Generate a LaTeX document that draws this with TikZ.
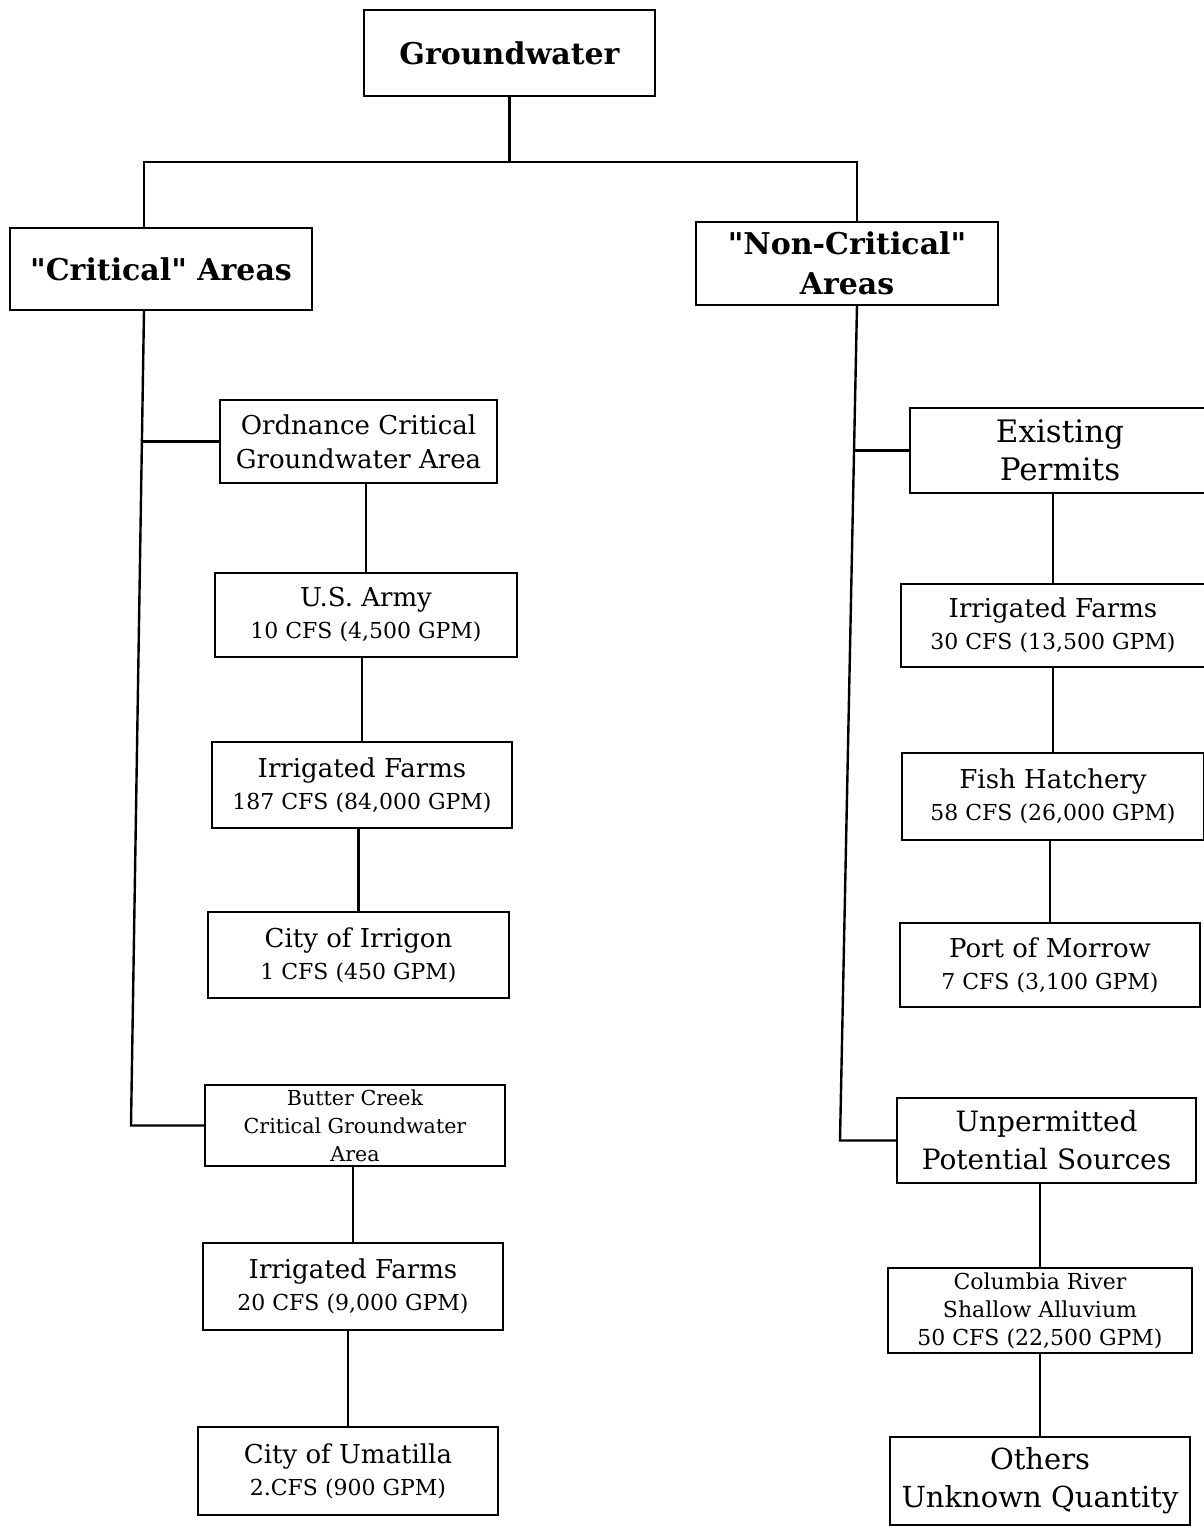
\documentclass[tikz,border=0pt]{standalone}
\usepackage{fontspec}
\setmainfont{DejaVu Serif}
\newcommand\fsub{\fontsize{11}{14}\selectfont}
\begin{document}
\begin{tikzpicture}[x=0.5pt,y=-0.5pt,
  bx/.style={draw, line width=1.2pt, inner sep=0pt, align=center},
  topf/.style={font=\bfseries\fontsize{15}{20}\selectfont},
  mainf/.style={font=\fontsize{13}{16}\selectfont},
  ordf/.style={font=\fontsize{13}{17}\selectfont},
  bigf/.style={font=\fontsize{#1}{19}\selectfont},
  smallf/.style={font=\fontsize{10.3}{14}\selectfont},
  colf/.style={font=\fontsize{11}{14}\selectfont},
  ln/.style={line width=1.2pt}]
\useasboundingbox[fill=white] (0,0) rectangle (1204,1526);
% top
\node[bx, topf, minimum width=145.5pt, minimum height=43pt] (gw) at (509.5,53) {Groundwater};
\node[bx, topf, minimum width=151pt, minimum height=41pt] (crit) at (161,269) {\textquotedbl Critical\textquotedbl{} Areas};
\node[bx, topf, minimum width=151pt, minimum height=41.5pt] (noncrit) at (847,263.5) {\textquotedbl Non-Critical\textquotedbl\\Areas};
% left column
\node[bx, ordf, minimum width=138.5pt, minimum height=41.5pt] (ord) at (358.5,441.5) {Ordnance Critical\\Groundwater Area};
\node[bx, mainf, minimum width=151pt, minimum height=42pt] (army) at (366,615) {U.S. Army\\{\fsub 10 CFS (4,500 GPM)}};
\node[bx, mainf, minimum width=150pt, minimum height=43pt] (irrA) at (362,785) {Irrigated Farms\\{\fsub 187 CFS (84,000 GPM)}};
\node[bx, mainf, minimum width=150.5pt, minimum height=43pt] (irrigon) at (358.5,955) {City of Irrigon\\{\fsub 1 CFS (450 GPM)}};
\node[bx, smallf, minimum width=150pt, minimum height=40.5pt] (butter) at (355,1125.5) {Butter Creek\\Critical Groundwater\\Area};
\node[bx, mainf, minimum width=150pt, minimum height=43.5pt] (irrB) at (353,1286.5) {Irrigated Farms\\{\fsub 20 CFS (9,000 GPM)}};
\node[bx, mainf, minimum width=150pt, minimum height=44pt] (umat) at (348,1471) {City of Umatilla\\{\fsub 2.CFS (900 GPM)}};
% right column
\node[bx, bigf=15.5, minimum width=150pt, minimum height=42.5pt] (exist) at (1060,450.5) {Existing\\Permits};
\node[bx, mainf, minimum width=152pt, minimum height=41.5pt] (irrC) at (1053,625.5) {Irrigated Farms\\{\fsub 30 CFS (13,500 GPM)}};
\node[bx, mainf, minimum width=151pt, minimum height=43.5pt] (fish) at (1053,796.5) {Fish Hatchery\\{\fsub 58 CFS (26,000 GPM)}};
\node[bx, mainf, minimum width=150pt, minimum height=42pt] (port) at (1050,965) {Port of Morrow\\{\fsub 7 CFS (3,100 GPM)}};
\node[bx, bigf=14, minimum width=149.5pt, minimum height=42.5pt] (unperm) at (1046.5,1140.5) {Unpermitted\\Potential Sources};
\node[bx, colf, minimum width=152pt, minimum height=42.5pt] (colum) at (1040,1310.5) {Columbia River\\Shallow Alluvium\\50 CFS (22,500 GPM)};
\node[bx, bigf=14.5, minimum width=150pt, minimum height=44pt] (others) at (1040,1481) {Others\\Unknown Quantity};
% top connectors
\coordinate (tL) at (144,162);
\coordinate (tR) at (857,162);
\draw[ln] (gw.south) -- (gw.south |- tL);
\draw[ln] (crit.north -| tL) -- (tL) -- (tR) -- (noncrit.north -| tR);
% left trunk
\coordinate (lA) at (144,310);
\coordinate (lO) at (142,441.5);
\coordinate (lB) at (131,1125.5);
\draw[ln] (lA) -- (lB) -- (butter.west);
\draw[ln] (lO) -- (ord.west);
% right trunk
\coordinate (rA) at (857,305);
\coordinate (rE) at (854,450.5);
\coordinate (rU) at (840,1140.5);
\draw[ln] (rA) -- (rU) -- (unperm.west);
\draw[ln] (rE) -- (exist.west);
% chains (vertical drops)
\draw[ln] (ord.south -| army.north) -- (army.north);
\draw[ln] (army.south -| irrA.north) -- (irrA.north);
\draw[ln] (irrA.south -| irrigon.north) -- (irrigon.north);
\draw[ln] (butter.south -| irrB.north) -- (irrB.north);
\draw[ln] (irrB.south -| umat.north) -- (umat.north);
\draw[ln] (exist.south -| irrC.north) -- (irrC.north);
\draw[ln] (irrC.south -| fish.north) -- (fish.north);
\draw[ln] (fish.south -| port.north) -- (port.north);
\draw[ln] (unperm.south -| colum.north) -- (colum.north);
\draw[ln] (colum.south -| others.north) -- (others.north);
\end{tikzpicture}
\end{document}
